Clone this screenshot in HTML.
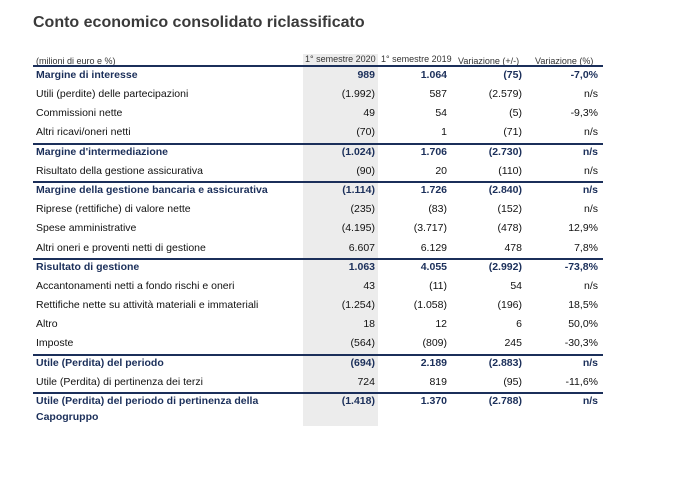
<!DOCTYPE html><html><head><meta charset="utf-8"><style>
body{margin:0;width:681px;height:490px;background:#fff;font-family:"Liberation Sans",sans-serif;position:relative;overflow:hidden}
.t{position:absolute;left:33px;top:14px;font-size:16px;font-weight:bold;color:#3a3a3a}
.g{position:absolute;left:303px;top:54px;width:75px;height:372px;background:#ececec}
.r{position:absolute;left:33px;width:570px;height:19px;font-size:10.5px;color:#111;line-height:19px}
.r span{position:absolute;top:0}
.r .a{right:228px}.r .b{right:156px}.r .c{right:81px}.r .d{right:5px}
.b1{font-weight:bold;color:#1b2f5a}
.ln{position:absolute;left:33px;width:570px;height:2px;background:#1b2f5a}
.h{position:absolute;top:54px;font-size:9px;color:#333}
</style></head><body>
<div class="t">Conto economico consolidato riclassificato</div>
<div class="g"></div>
<div class="h" style="left:36px;top:56px">(milioni di euro e %)</div>
<div class="h" style="left:305px">1° semestre 2020</div>
<div class="h" style="left:381px">1° semestre 2019</div>
<div class="h" style="left:458px;top:56px">Variazione (+/-)</div>
<div class="h" style="left:535px;top:56px">Variazione (%)</div>
<div class="ln" style="top:65px"></div>
<div class="ln" style="top:143px"></div>
<div class="ln" style="top:181px"></div>
<div class="ln" style="top:258px"></div>
<div class="ln" style="top:354px"></div>
<div class="ln" style="top:392px"></div>
<div class="r b1" style="top:66px"><span style="left:3px">Margine di interesse</span><span class="a">989</span><span class="b">1.064</span><span class="c">(75)</span><span class="d">-7,0%</span></div>
<div class="r" style="top:85px"><span style="left:3px">Utili (perdite) delle partecipazioni</span><span class="a">(1.992)</span><span class="b">587</span><span class="c">(2.579)</span><span class="d">n/s</span></div>
<div class="r" style="top:104px"><span style="left:3px">Commissioni nette</span><span class="a">49</span><span class="b">54</span><span class="c">(5)</span><span class="d">-9,3%</span></div>
<div class="r" style="top:123px"><span style="left:3px">Altri ricavi/oneri netti</span><span class="a">(70)</span><span class="b">1</span><span class="c">(71)</span><span class="d">n/s</span></div>
<div class="r b1" style="top:143px"><span style="left:3px">Margine d'intermediazione</span><span class="a">(1.024)</span><span class="b">1.706</span><span class="c">(2.730)</span><span class="d">n/s</span></div>
<div class="r" style="top:162px"><span style="left:3px">Risultato della gestione assicurativa</span><span class="a">(90)</span><span class="b">20</span><span class="c">(110)</span><span class="d">n/s</span></div>
<div class="r b1" style="top:181px"><span style="left:3px">Margine della gestione bancaria e assicurativa</span><span class="a">(1.114)</span><span class="b">1.726</span><span class="c">(2.840)</span><span class="d">n/s</span></div>
<div class="r" style="top:200px"><span style="left:3px">Riprese (rettifiche) di valore nette</span><span class="a">(235)</span><span class="b">(83)</span><span class="c">(152)</span><span class="d">n/s</span></div>
<div class="r" style="top:219px"><span style="left:3px">Spese amministrative</span><span class="a">(4.195)</span><span class="b">(3.717)</span><span class="c">(478)</span><span class="d">12,9%</span></div>
<div class="r" style="top:239px"><span style="left:3px">Altri oneri e proventi netti di gestione</span><span class="a">6.607</span><span class="b">6.129</span><span class="c">478</span><span class="d">7,8%</span></div>
<div class="r b1" style="top:258px"><span style="left:3px">Risultato di gestione</span><span class="a">1.063</span><span class="b">4.055</span><span class="c">(2.992)</span><span class="d">-73,8%</span></div>
<div class="r" style="top:277px"><span style="left:3px">Accantonamenti netti a fondo rischi e oneri</span><span class="a">43</span><span class="b">(11)</span><span class="c">54</span><span class="d">n/s</span></div>
<div class="r" style="top:296px"><span style="left:3px">Rettifiche nette su attività materiali e immateriali</span><span class="a">(1.254)</span><span class="b">(1.058)</span><span class="c">(196)</span><span class="d">18,5%</span></div>
<div class="r" style="top:315px"><span style="left:3px">Altro</span><span class="a">18</span><span class="b">12</span><span class="c">6</span><span class="d">50,0%</span></div>
<div class="r" style="top:334px"><span style="left:3px">Imposte</span><span class="a">(564)</span><span class="b">(809)</span><span class="c">245</span><span class="d">-30,3%</span></div>
<div class="r b1" style="top:354px"><span style="left:3px">Utile (Perdita) del periodo</span><span class="a">(694)</span><span class="b">2.189</span><span class="c">(2.883)</span><span class="d">n/s</span></div>
<div class="r" style="top:373px"><span style="left:3px">Utile (Perdita) di pertinenza dei terzi</span><span class="a">724</span><span class="b">819</span><span class="c">(95)</span><span class="d">-11,6%</span></div>
<div class="r b1" style="top:392px"><span style="left:3px">Utile (Perdita) del periodo di pertinenza della</span><span class="a">(1.418)</span><span class="b">1.370</span><span class="c">(2.788)</span><span class="d">n/s</span></div>
<div class="r b1" style="top:408px"><span style="left:3px">Capogruppo</span></div>
</body></html>
